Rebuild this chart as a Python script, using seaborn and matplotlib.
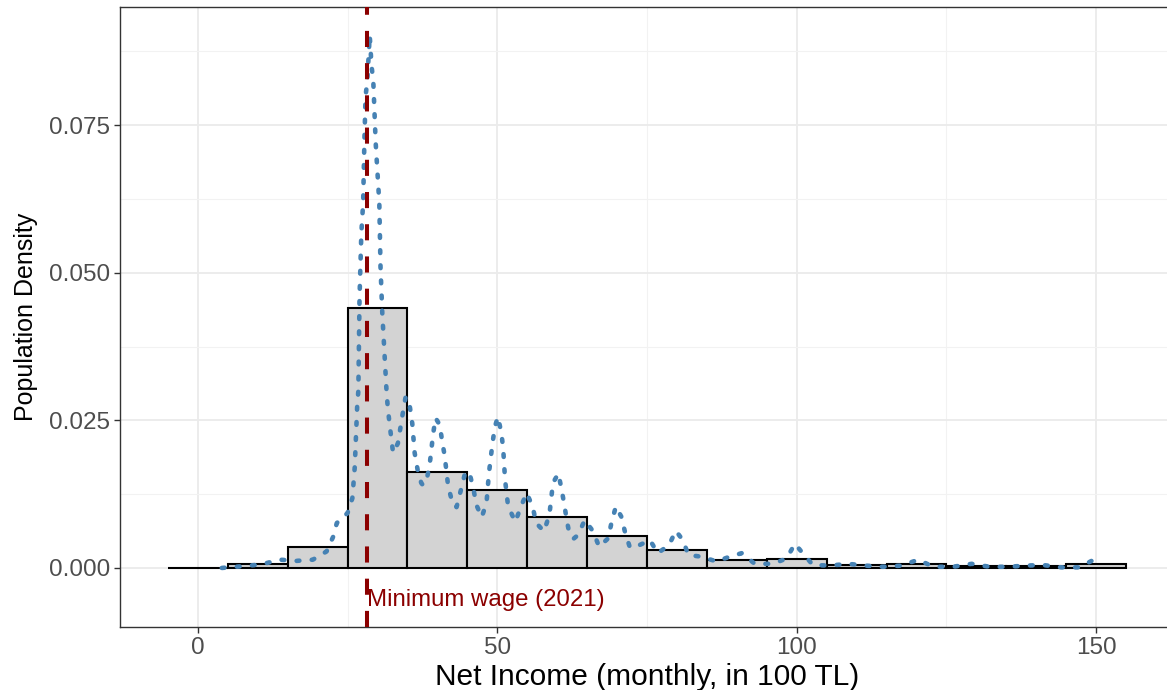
import numpy as np
import pandas as pd
import matplotlib
matplotlib.use("Agg")
import matplotlib.pyplot as plt
import seaborn as sns

# ---- data ----
bin_centers = [0, 10, 20, 30, 40, 50, 60, 70, 80, 90, 100, 110, 120, 130, 140, 150]
bin_density = [0.0, 0.0007, 0.0036, 0.0440, 0.0163, 0.0132, 0.0087, 0.0054,
               0.0031, 0.0014, 0.0015, 0.0005, 0.0006, 0.0003, 0.0003, 0.0006]
bin_edges = [-5, 5, 15, 25, 35, 45, 55, 65, 75, 85, 95, 105, 115, 125, 135, 145, 155]

dens_x = [4.0, 7.5, 10.6, 13.7, 16.5, 19.2, 21.5, 22.6, 23.2, 25.0, 25.8, 26.0,
          26.2, 26.4, 26.6, 26.8, 27.0, 27.3, 27.6, 27.8, 28.0, 28.3, 28.7,
          29.0, 29.3, 29.5, 29.7, 30.0, 30.3, 30.5, 30.8, 31.2, 31.5, 31.7,
          32.0, 32.6, 33.4, 34.3, 34.7, 35.4, 35.8, 36.2, 36.7, 37.3, 37.6,
          38.2, 38.7, 39.3, 39.7, 40.4, 40.8, 41.2, 41.8, 42.6, 43.2, 44.0,
          44.6, 45.3, 46.0, 46.5, 47.4, 48.2, 48.6, 49.2, 49.6, 50.1, 50.7,
          51.0, 51.3, 51.8, 53.0, 54.0, 54.9, 55.9, 56.5, 57.8, 58.7, 59.3,
          60.2, 60.7, 61.2, 61.6, 62.1, 62.8, 63.5, 64.6, 66.0, 67.0, 68.5,
          69.1, 69.8, 70.7, 71.3, 72.1, 73.0, 73.8, 75.5, 76.8, 78.7, 79.8,
          81.0, 81.9, 84.1, 86.6, 88.8, 90.8, 93.0, 96.0, 98.3, 99.7, 101.0,
          102.7, 105.5, 108.6, 111.4, 114.4, 117.5, 120.3, 122.8, 126.1,
          129.2, 132.2, 135.3, 138.3, 141.1, 144.2, 147.2, 149.8, 150.5]
dens_y = [0.0000, 0.0003, 0.0006, 0.0014, 0.0012, 0.0014, 0.0028, 0.0053,
          0.0076, 0.0093, 0.0118, 0.0144, 0.0171, 0.0222, 0.0273, 0.0300,
          0.0459, 0.0567, 0.0618, 0.0719, 0.0798, 0.0826, 0.0902, 0.0851,
          0.0823, 0.0770, 0.0719, 0.0669, 0.0618, 0.0510, 0.0431, 0.0358,
          0.0301, 0.0273, 0.0245, 0.0195, 0.0211, 0.0267, 0.0290, 0.0273,
          0.0245, 0.0195, 0.0166, 0.0144, 0.0140, 0.0149, 0.0174, 0.0228,
          0.0254, 0.0242, 0.0214, 0.0191, 0.0138, 0.0107, 0.0103, 0.0135,
          0.0160, 0.0163, 0.0135, 0.0107, 0.0086, 0.0110, 0.0160, 0.0211,
          0.0239, 0.0256, 0.0228, 0.0200, 0.0149, 0.0105, 0.0078, 0.0105,
          0.0127, 0.0104, 0.0076, 0.0062, 0.0090, 0.0144, 0.0160, 0.0135,
          0.0107, 0.0081, 0.0055, 0.0050, 0.0056, 0.0081, 0.0062, 0.0036,
          0.0050, 0.0078, 0.0104, 0.0087, 0.0062, 0.0036, 0.0034, 0.0039,
          0.0047, 0.0025, 0.0039, 0.0063, 0.0047, 0.0022, 0.0019, 0.0011,
          0.0019, 0.0025, 0.0007, 0.0007, 0.0016, 0.0041, 0.0025, 0.0005,
          0.0004, 0.0007, 0.0004, 0.0002, 0.0004, 0.0014, 0.0002, 0.0002,
          0.0007, 0.0002, 0.0002, 0.0004, 0.0005, 0.0001, 0.0001, 0.0015,
          0.0017]

min_wage = 28.26
min_wage_label = "Minimum wage (2021)"
x_ticks = [0, 50, 100, 150]
y_ticks = [0.000, 0.025, 0.050, 0.075]
y_tick_labels = ["0.000", "0.025", "0.050", "0.075"]
x_label = "Net Income (monthly, in 100 TL)"
y_label = "Population Density"

# ---- plot ----
sns.set_theme(style="white")
plt.rcParams["font.family"] = ["Liberation Sans", "DejaVu Sans"]

fig = plt.figure(figsize=(11.67, 6.90), dpi=100)
ax = fig.add_axes([120 / 1167, 63 / 690, 1054 / 1167, 620 / 690])

hist_df = pd.DataFrame({"x": bin_centers, "w": bin_density})
sns.histplot(data=hist_df, x="x", weights="w", bins=bin_edges, stat="count",
             color="#D3D3D3", edgecolor="black", linewidth=1.5, alpha=1.0,
             ax=ax, zorder=3)

dens_df = pd.DataFrame({"x": dens_x, "y": dens_y})
sns.lineplot(data=dens_df, x="x", y="y", sort=False, ax=ax, color="#4682B4",
             linewidth=3.3, linestyle=(0, (0.6, 2.7)),
             dash_capstyle="round", solid_capstyle="round", zorder=4)

ax.axvline(min_wage, color="#8B0000", linewidth=2.9, linestyle=(0, (4, 4)),
           zorder=5)
ax.text(min_wage, -0.0054, min_wage_label, color="#8B0000", fontsize=17.3,
        ha="left", va="center", zorder=6)

ax.set_xlim(-13.0, 163.0)
ax.set_ylim(-0.0100, 0.0950)
ax.set_xticks(x_ticks)
ax.set_xticks([25, 75, 125], minor=True)
ax.set_yticks(y_ticks)
ax.set_yticklabels(y_tick_labels)
ax.set_yticks([0.0125, 0.0375, 0.0625, 0.0875], minor=True)

ax.grid(which="major", color="#EBEBEB", linewidth=1.3, zorder=0)
ax.grid(which="minor", color="#F2F2F2", linewidth=0.8, zorder=0)
ax.set_axisbelow(True)

for s in ax.spines.values():
    s.set_color("#333333")
    s.set_linewidth(1.0)
ax.spines["right"].set_visible(False)

ax.tick_params(axis="both", which="major", direction="out", length=4,
               width=1.0, color="#333333", labelcolor="#4D4D4D",
               labelsize=17.5, pad=3, bottom=True, left=True)
ax.tick_params(axis="both", which="minor", length=0)

ax.set_xlabel(x_label, fontsize=21.5, color="black", labelpad=3)
ax.set_ylabel(y_label, fontsize=18, color="black", labelpad=8)

fig.savefig("out.png", dpi=100)
